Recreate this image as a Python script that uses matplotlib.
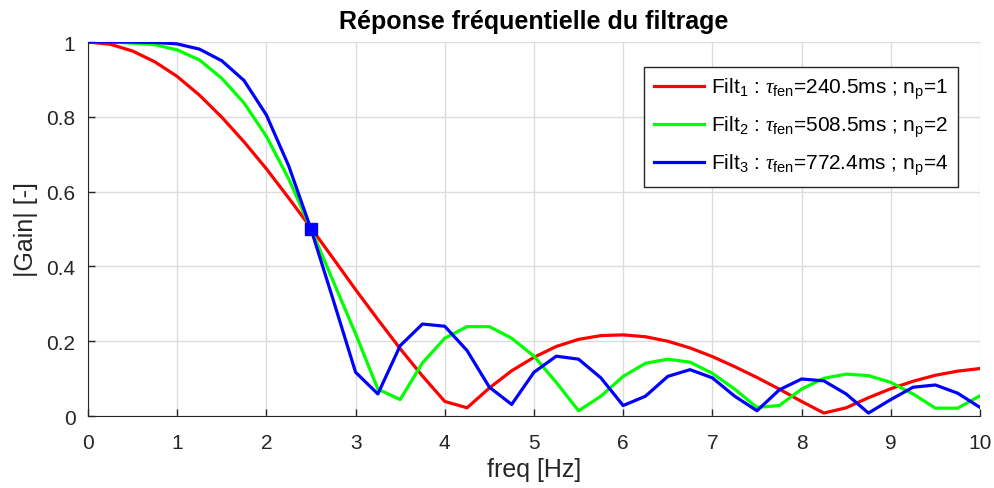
import matplotlib
matplotlib.use("Agg")
import matplotlib.pyplot as plt

plt.rcParams['font.family'] = ['Liberation Sans', 'DejaVu Sans']
plt.rcParams['mathtext.fontset'] = 'custom'
plt.rcParams['mathtext.rm'] = 'Liberation Sans'
plt.rcParams['mathtext.it'] = 'Liberation Serif:italic'

# frequency grid (Hz)
freq = [0.0, 0.25, 0.5, 0.75, 1.0, 1.25, 1.5, 1.75, 2.0, 2.25, 2.5, 2.75, 3.0, 3.25,
        3.5, 3.75, 4.0, 4.25, 4.5, 4.75, 5.0, 5.25, 5.5, 5.75, 6.0, 6.25, 6.5, 6.75,
        7.0, 7.25, 7.5, 7.75, 8.0, 8.25, 8.5, 8.75, 9.0, 9.25, 9.5, 9.75, 10.0]

# |gain| of each filter
gain_filt1 = [1.000, 0.994, 0.976, 0.947, 0.908, 0.858, 0.799, 0.733, 0.661, 0.583,
              0.503, 0.421, 0.338, 0.258, 0.180, 0.107, 0.039, 0.022, 0.075, 0.121,
              0.157, 0.186, 0.205, 0.215, 0.217, 0.212, 0.200, 0.182, 0.159, 0.132,
              0.103, 0.072, 0.039, 0.008, 0.022, 0.049, 0.073, 0.093, 0.109, 0.120, 0.127]
gain_filt2 = [1.000, 1.000, 0.997, 0.993, 0.979, 0.952, 0.903, 0.837, 0.748, 0.634,
              0.500, 0.360, 0.220, 0.072, 0.044, 0.142, 0.208, 0.239, 0.239, 0.208,
              0.160, 0.090, 0.014, 0.053, 0.106, 0.141, 0.152, 0.144, 0.114, 0.072,
              0.023, 0.028, 0.072, 0.101, 0.112, 0.108, 0.090, 0.059, 0.021, 0.021, 0.054]
gain_filt3 = [1.000, 1.000, 1.000, 0.999, 0.995, 0.981, 0.950, 0.897, 0.805, 0.669,
              0.500, 0.310, 0.117, 0.059, 0.188, 0.246, 0.240, 0.175, 0.077, 0.031,
              0.117, 0.160, 0.152, 0.102, 0.028, 0.053, 0.106, 0.124, 0.102, 0.053,
              0.014, 0.070, 0.099, 0.094, 0.059, 0.008, 0.044, 0.077, 0.083, 0.061, 0.023]

# cut-off point (-6 dB)
cut_freq = [2.5]
cut_gain = [0.5]

labels = [r'Filt$_1$ : $\tau_{\mathrm{fen}}$=240.5ms ; n$_\mathrm{p}$=1',
          r'Filt$_2$ : $\tau_{\mathrm{fen}}$=508.5ms ; n$_\mathrm{p}$=2',
          r'Filt$_3$ : $\tau_{\mathrm{fen}}$=772.4ms ; n$_\mathrm{p}$=4']

fig = plt.figure(figsize=(9.94, 4.89), dpi=100)
ax = fig.add_axes([0.0885, 0.1472, 0.8974, 0.7648])

ax.plot(freq, gain_filt1, color=(1, 0, 0), lw=2.3, label=labels[0])
ax.plot(freq, gain_filt2, color=(0, 1, 0), lw=2.3, label=labels[1])
ax.plot(freq, gain_filt3, color=(0, 0, 1), lw=2.3, label=labels[2])
ax.plot(cut_freq, cut_gain, 's', color=(0, 0, 1), markersize=8)

ax.set_xlim(0, 10)
ax.set_ylim(0, 1)
ax.set_xticks(range(0, 11))
ax.set_yticks([0, 0.2, 0.4, 0.6, 0.8, 1])
ax.set_yticklabels(['0', '0.2', '0.4', '0.6', '0.8', '1'])
ax.grid(True, color='#dcdcdc', lw=1)
ax.set_axisbelow(True)
ax.spines['top'].set_visible(False)
ax.spines['right'].set_visible(False)
ax.spines['left'].set_color('#262626')
ax.spines['bottom'].set_color('#262626')
ax.tick_params(direction='in', length=5, width=1, colors='#262626', labelsize=15)
ax.tick_params(axis='x', pad=12)
ax.tick_params(axis='y', pad=9)

ax.set_xlabel('freq [Hz]', fontsize=18, color='#262626', labelpad=4)
ax.set_ylabel('|Gain| [-]', fontsize=18, color='#262626', labelpad=6)
ax.set_title('Réponse fréquentielle du filtrage', fontsize=18, fontweight='bold', pad=10)

leg = ax.legend(loc='upper right', bbox_to_anchor=(0.9865, 0.962), fontsize=15,
                handlelength=2.4, handletextpad=0.35, borderpad=0.45, labelspacing=0.62,
                fancybox=False, framealpha=1, edgecolor='#262626')
leg.get_frame().set_linewidth(1)

fig.savefig('out.png', dpi=100)
